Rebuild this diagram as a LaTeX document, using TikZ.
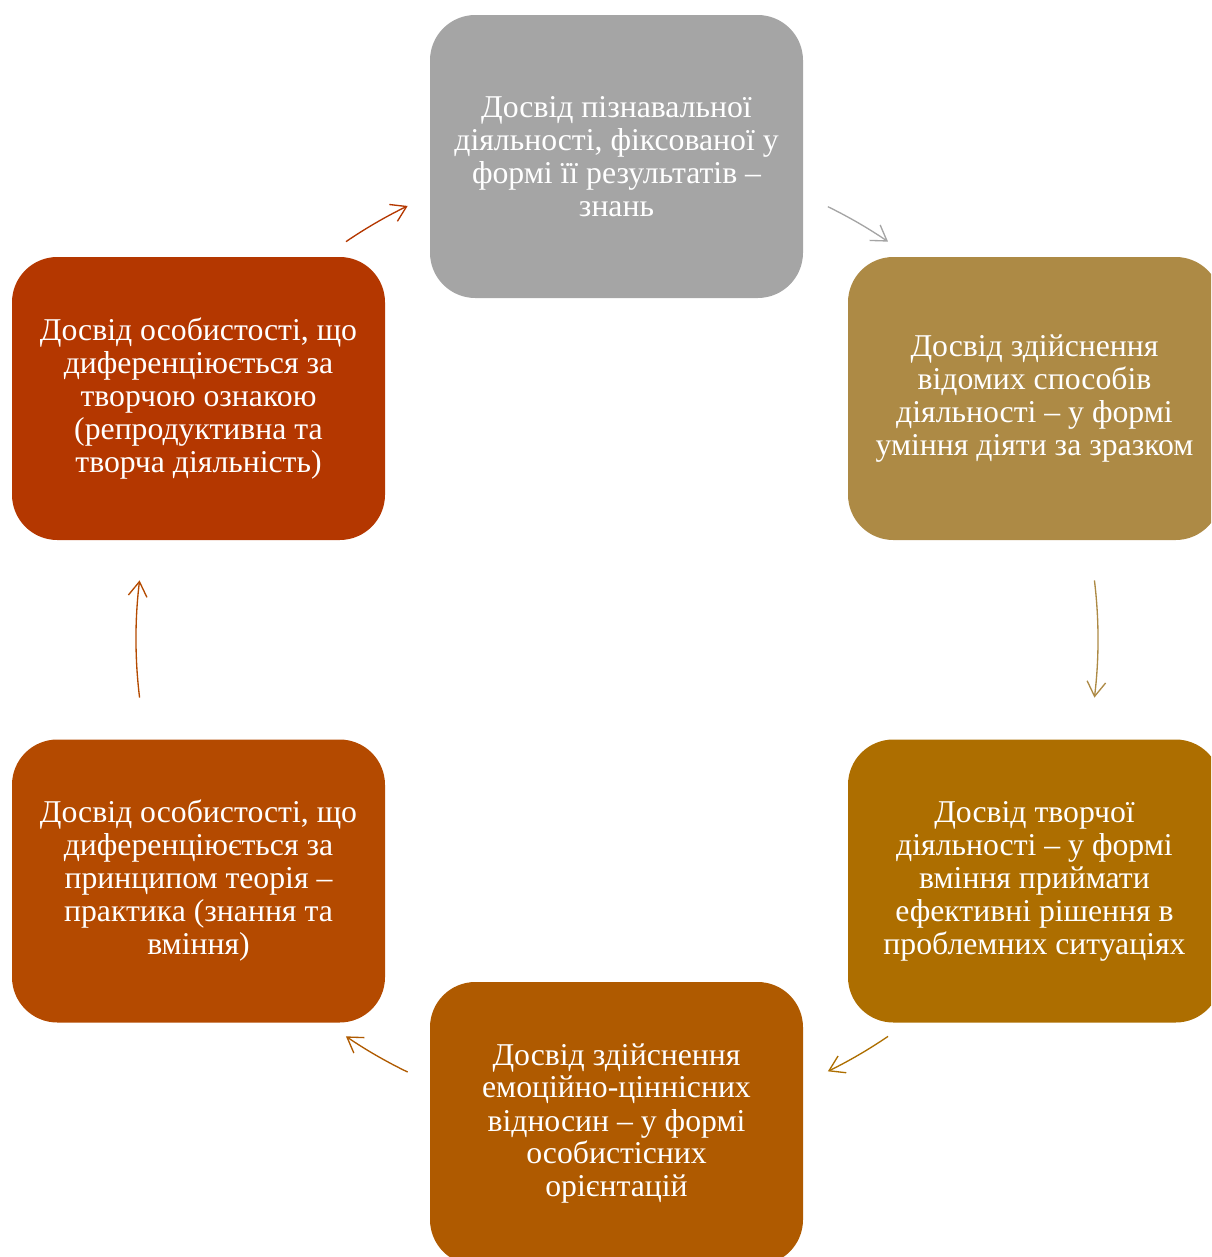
\documentclass[tikz,border=0pt]{standalone}
\usepackage{fontspec}
\setmainfont{Liberation Serif}
\usetikzlibrary{arrows.meta,calc}
\definecolor{cgray}{HTML}{A5A5A5}
\definecolor{cru}{HTML}{AD8A45}
\definecolor{crl}{HTML}{AD6E00}
\definecolor{cbot}{HTML}{AF5A00}
\definecolor{cll}{HTML}{B44A00}
\definecolor{clu}{HTML}{B43700}
\tikzset{
  box/.style={rounded corners=34pt, minimum width=279.75pt, minimum height=212.25pt,
    align=center, text=white, inner sep=0pt,
    font=\fontsize{23.8}{24.75}\selectfont},
  arr/.style={line width=1pt, -{Straight Barb[length=11pt,width=14pt,line width=1pt]}}
}
\begin{document}
\begin{tikzpicture}[x=0.75pt,y=0.75pt]
\useasboundingbox (0,0) rectangle (1211,-1257);
\clip (0,0) rectangle (1211,-1257);
\node[box, fill=cgray] (top) at (616.5,-156.5) {Досвід пізнавальної\\діяльності, фіксованої у\\формі її результатів –\\знань};
\node[box, fill=cru] (ru) at (1034.5,-398.5) {Досвід здійснення\\відомих способів\\діяльності – у формі\\уміння діяти за зразком};
\node[box, fill=crl] (rl) at (1034.5,-881) {Досвід творчої\\діяльності – у формі\\вміння приймати\\ефективні рішення в\\проблемних ситуаціях};
\node[box, fill=cbot] (bot) at (616.5,-1123.5) {Досвід здійснення\\емоційно-ціннісних\\відносин – у формі\\особистісних\\орієнтацій};
\node[box, fill=cll] (ll) at (198.5,-881) {Досвід особистості, що\\диференціюється за\\принципом теорія –\\практика (знання та\\вміння)};
\node[box, fill=clu] (lu) at (198.5,-398.5) {Досвід особистості, що\\диференціюється за\\творчою ознакою\\(репродуктивна та\\творча діяльність)};
\coordinate (c) at (617,-639);
\draw[arr, cgray] ($(c)+(64:481)$) arc[start angle=64, end angle=55.7, radius=481];
\draw[arr, cru] ($(c)+(7:481)$) arc[start angle=7, end angle=-7, radius=481];
\draw[arr, crl] ($(c)+(-55.7:481)$) arc[start angle=-55.7, end angle=-64, radius=481];
\draw[arr, cbot] ($(c)+(-115.8:481)$) arc[start angle=-115.8, end angle=-124.3, radius=481];
\draw[arr, cll] ($(c)+(-173:481)$) arc[start angle=-173, end angle=-187, radius=481];
\draw[arr, clu] ($(c)+(124.3:481)$) arc[start angle=124.3, end angle=115.8, radius=481];
\end{tikzpicture}
\end{document}
